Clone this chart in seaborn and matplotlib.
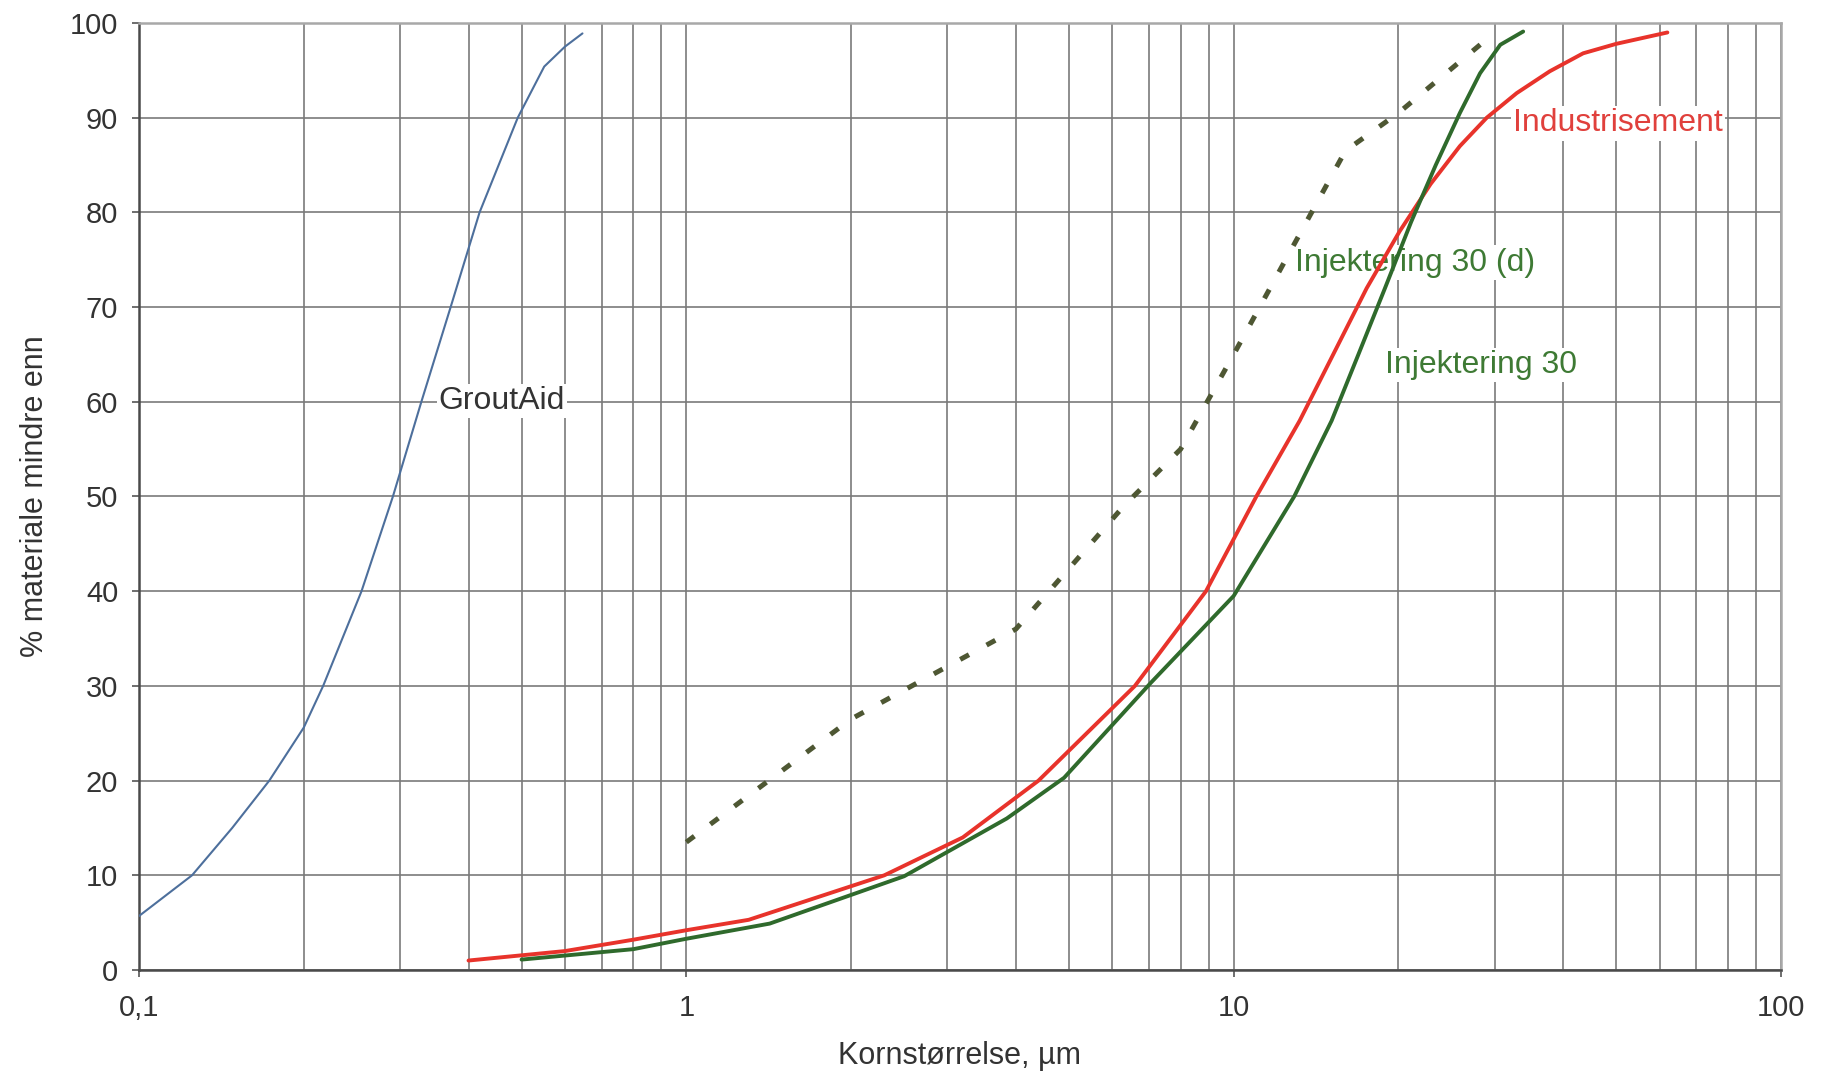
import matplotlib
matplotlib.use("Agg")
import matplotlib.pyplot as plt
import matplotlib.ticker as mticker
import numpy as np
import pandas as pd
import seaborn as sns

# Grain size distributions (cumulative % passing vs. grain size in µm)
groutaid_size = [0.1, 0.125, 0.148, 0.173, 0.2, 0.217, 0.255, 0.291, 0.328, 0.371, 0.419, 0.492, 0.55, 0.6, 0.646]
groutaid_pct = [5.7, 10, 15, 20, 25.6, 30, 40, 50, 60, 70, 80, 90, 95.4, 97.5, 98.9]

industri_size = [0.4, 0.6, 0.8, 1.0, 1.3, 2.3, 3.2, 4.4, 6.6, 8.9, 11.0, 13.2, 15.2, 17.5, 20.1, 22.9,
                 25.9, 29.0, 32.9, 37.8, 43.5, 50, 62]
industri_pct = [1, 2, 3.2, 4.2, 5.3, 10, 14, 20, 30, 40, 50, 58, 65, 72, 78, 83,
                87, 90, 92.6, 94.9, 96.8, 97.8, 99]

inj30_size = [0.5, 0.8, 1.0, 1.42, 2.5, 3.85, 4.9, 7.05, 10, 12.9, 15.1, 16.9, 18.9, 21.1, 23.4,
              25.9, 28.2, 30.7, 33.8]
inj30_pct = [1.1, 2.2, 3.3, 4.9, 9.9, 16, 20.3, 30.3, 39.5, 50, 58, 65, 72, 79, 85,
             90.5, 94.7, 97.7, 99.1]

inj30d_size = [1.0, 2.0, 4.0, 6.3, 8.0, 10, 16, 20, 30]
inj30d_pct = [13.5, 26.5, 36, 49, 55, 65, 86.5, 90.5, 99]

x_ticks = [0.1, 1, 10, 100]
x_tick_labels = ["0,1", "1", "10", "100"]
y_ticks = list(range(0, 101, 10))

sns.set_style("white")
plt.rcParams["font.family"] = ["Liberation Sans", "DejaVu Sans"]

fig = plt.figure(figsize=(18.21, 10.92), dpi=100)
ax = fig.add_axes([139 / 1821, 1 - 970 / 1092, (1781 - 139) / 1821, (970 - 23) / 1092])

df_g = pd.DataFrame({"size": groutaid_size, "pct": groutaid_pct})
df_i = pd.DataFrame({"size": industri_size, "pct": industri_pct})
df_30 = pd.DataFrame({"size": inj30_size, "pct": inj30_pct})
df_30d = pd.DataFrame({"size": inj30d_size, "pct": inj30d_pct})

ax.set_xscale("log")

sns.lineplot(data=df_g, x="size", y="pct", ax=ax, color="#4d6f9c", lw=1.5, sort=False, zorder=3)
sns.lineplot(data=df_30d, x="size", y="pct", ax=ax, color="#4e5733", lw=3.6, sort=False, zorder=3,
             linestyle=(0, (2, 4)), dash_capstyle="butt")
sns.lineplot(data=df_i, x="size", y="pct", ax=ax, color="#e8332b", lw=2.8, sort=False, zorder=4)
sns.lineplot(data=df_30, x="size", y="pct", ax=ax, color="#2f6a2c", lw=2.8, sort=False, zorder=4)

ax.set_xlim(0.1, 100)
ax.set_ylim(0, 100)

# Gridlines on every decade and sub-decade, every 10 % vertically
ax.xaxis.set_major_locator(mticker.FixedLocator(x_ticks))
ax.xaxis.set_major_formatter(mticker.FixedFormatter(x_tick_labels))
ax.xaxis.set_minor_locator(mticker.LogLocator(base=10, subs=np.arange(2, 10), numticks=20))
ax.xaxis.set_minor_formatter(mticker.NullFormatter())
ax.set_yticks(y_ticks)
ax.set_axisbelow(True)
ax.grid(True, which="major", axis="both", color="#7a7a7a", lw=1.2)
ax.grid(True, which="minor", axis="x", color="#7a7a7a", lw=1.2)

ax.tick_params(axis="both", which="major", direction="out", length=5, width=1.2,
               color="#555555", labelsize=21, labelcolor="#333333", bottom=True, left=True)
ax.tick_params(axis="x", which="major", pad=12)
ax.tick_params(axis="y", which="major", pad=10)
ax.tick_params(axis="x", which="minor", length=0)

for side in ["left", "bottom"]:
    ax.spines[side].set_color("#4a4a4a")
    ax.spines[side].set_linewidth(1.8)
for side in ["top", "right"]:
    ax.spines[side].set_color("#a8a8a8")
    ax.spines[side].set_linewidth(1.8)

ax.set_xlabel("Kornstørrelse, µm", fontsize=22, color="#333333", labelpad=14)
ax.set_ylabel("% materiale mindre enn", fontsize=22, color="#333333", labelpad=14)

box = dict(facecolor="white", edgecolor="none", pad=1.5)
ax.text(0.353, 60.1, "GroutAid", fontsize=23, color="#333333", ha="left", va="center", bbox=box, zorder=2.5)
ax.text(32.4, 89.4, "Industrisement", fontsize=23, color="#e0403c", ha="left", va="center", bbox=box, zorder=2.5)
ax.text(12.97, 74.7, "Injektering 30 (d)", fontsize=23, color="#3e7a34", ha="left", va="center", bbox=box, zorder=2.5)
ax.text(18.9, 63.9, "Injektering 30", fontsize=23, color="#3e7a34", ha="left", va="center", bbox=box, zorder=2.5)

fig.savefig("out.png", dpi=100, facecolor="white")
